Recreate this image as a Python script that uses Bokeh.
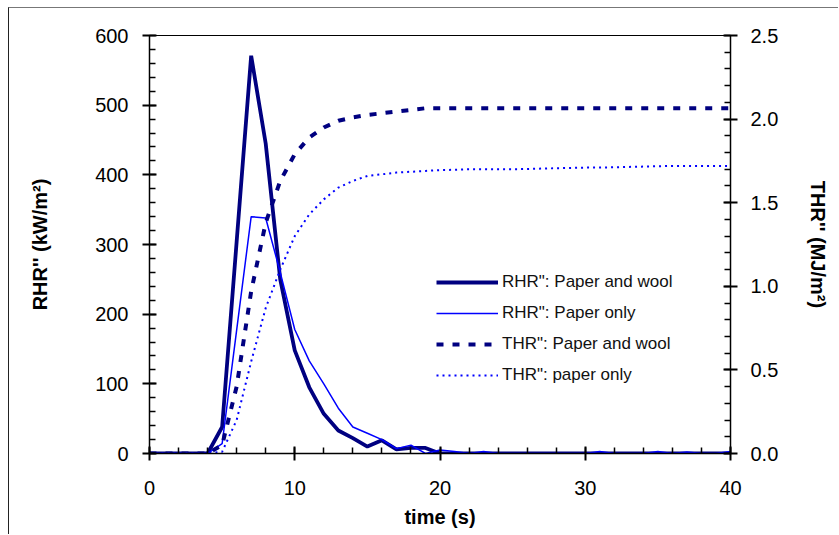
from bokeh.plotting import figure
from bokeh.models import (Range1d, LinearAxis, SingleIntervalTicker, NumeralTickFormatter,
                          Legend, LegendItem)
from bokeh.embed import file_html
from bokeh.resources import INLINE

# ---- data ----
time_s = list(range(0, 42))

rhr_paper_wool = [0, 0, 0, 0, 0, 38, 304, 571, 445, 250, 148, 95, 57, 33, 22, 10, 19, 6, 8, 8,
                  0, 0, 0, 0, 0, 0, 0, 0, 0, 0, 0, 0, 0, 0, 0, 0, 0, 0, 0, 0, 0, 0]

rhr_paper_only = [0, 0, 0, 0, 0, 14, 177, 340, 338, 260, 178, 133, 100, 65, 38, 29, 20, 7, 12, 0,
                  5, 3, 0, 3, 0, 0, 0, 0, 0, 0, 0, 3, 0, 0, 0, 3, 0, 2, 0, 0, 3, 0]

thr_paper_wool = [0, 0, 0, 0, 0, 0.05, 0.40, 0.97, 1.38, 1.63, 1.79, 1.89, 1.95, 1.99, 2.01, 2.025,
                  2.035, 2.045, 2.055, 2.065, 2.065, 2.065, 2.065, 2.065, 2.065, 2.065, 2.065,
                  2.065, 2.065, 2.065, 2.065, 2.065, 2.065, 2.065, 2.065, 2.065, 2.065, 2.065,
                  2.065, 2.065, 2.065, 2.065]

thr_paper_only = [0, 0, 0, 0, 0, 0.01, 0.20, 0.55, 0.87, 1.10, 1.30, 1.43, 1.52, 1.59, 1.63, 1.66,
                  1.67, 1.68, 1.685, 1.69, 1.695, 1.697, 1.70, 1.70, 1.70, 1.70, 1.702, 1.704,
                  1.706, 1.708, 1.71, 1.71, 1.712, 1.714, 1.716, 1.718, 1.72, 1.72, 1.72, 1.72,
                  1.72, 1.72]

legend_labels = ['RHR": Paper and wool', 'RHR": Paper only',
                 'THR": Paper and wool', 'THR": paper only']

FONT = "Liberation Sans"
NAVY = "#000080"
BLUE = "#0000FF"

p = figure(width=830, height=527, output_backend="svg", toolbar_location=None,
           x_range=Range1d(0, 40), y_range=Range1d(0, 600),
           min_border_left=140, min_border_right=109, min_border_top=27, min_border_bottom=82,
           background_fill_color="white", border_fill_color="white")
p.styles = {"margin-left": "8px", "margin-top": "7px",
            "border-left": "1px solid #222222", "border-top": "1px solid #777777"}
p.xaxis.visible = False
p.yaxis.visible = False
p.grid.visible = False
p.outline_line_color = "black"
p.outline_line_width = 1
p.extra_y_ranges = {"thr": Range1d(0, 2.5)}

def style_axis(ax):
    ax.axis_line_color = "black"
    ax.axis_line_width = 1.5
    ax.major_tick_line_color = "black"
    ax.minor_tick_line_color = "black"
    ax.major_tick_line_width = 2
    ax.minor_tick_line_width = 1.5
    ax.major_tick_in = 7
    ax.major_tick_out = 7
    ax.minor_tick_in = 6
    ax.minor_tick_out = 0
    ax.major_label_text_font = FONT
    ax.major_label_text_font_size = "20px"
    ax.major_label_text_color = "black"
    ax.axis_label_text_font = FONT
    ax.axis_label_text_font_size = "20px"
    ax.axis_label_text_font_style = "bold"
    ax.axis_label_text_color = "black"

xax = LinearAxis(ticker=SingleIntervalTicker(interval=10, num_minor_ticks=5),
                 axis_label="time (s)")
style_axis(xax)
xax.major_label_standoff = 20
xax.axis_label_standoff = 8
p.add_layout(xax, "below")

yax = LinearAxis(ticker=SingleIntervalTicker(interval=100, num_minor_ticks=5),
                 axis_label="RHR'' (kW/m²)")
style_axis(yax)
yax.major_label_standoff = 14
yax.axis_label_standoff = 41
p.add_layout(yax, "left")

rax = LinearAxis(y_range_name="thr",
                 ticker=SingleIntervalTicker(interval=0.5, num_minor_ticks=5),
                 formatter=NumeralTickFormatter(format="0.0"),
                 axis_label="THR'' (MJ/m²)")
style_axis(rax)
rax.major_label_standoff = 13
rax.axis_label_standoff = 26
p.add_layout(rax, "right")

r1 = p.line(time_s, rhr_paper_wool, line_color=NAVY, line_width=3.8)
r2 = p.line(time_s, rhr_paper_only, line_color=BLUE, line_width=1.5)
r3 = p.line(time_s, thr_paper_wool, y_range_name="thr", line_color=NAVY, line_width=4,
            line_dash="7 9")
r4 = p.line(time_s, thr_paper_only, y_range_name="thr", line_color=BLUE, line_width=2,
            line_dash="2 4")

legend = Legend(items=[LegendItem(label=legend_labels[0], renderers=[r1]),
                       LegendItem(label=legend_labels[1], renderers=[r2]),
                       LegendItem(label=legend_labels[2], renderers=[r3]),
                       LegendItem(label=legend_labels[3], renderers=[r4])],
                location=(287, 68), orientation="vertical",
                glyph_width=62, glyph_height=20, label_height=20, label_standoff=4,
                spacing=11, padding=0, margin=0,
                border_line_color=None, background_fill_alpha=0,
                label_text_font=FONT, label_text_font_size="17px", label_text_color="#111111")
p.add_layout(legend, "center")

open("out.html", "w").write(file_html(p, INLINE))
